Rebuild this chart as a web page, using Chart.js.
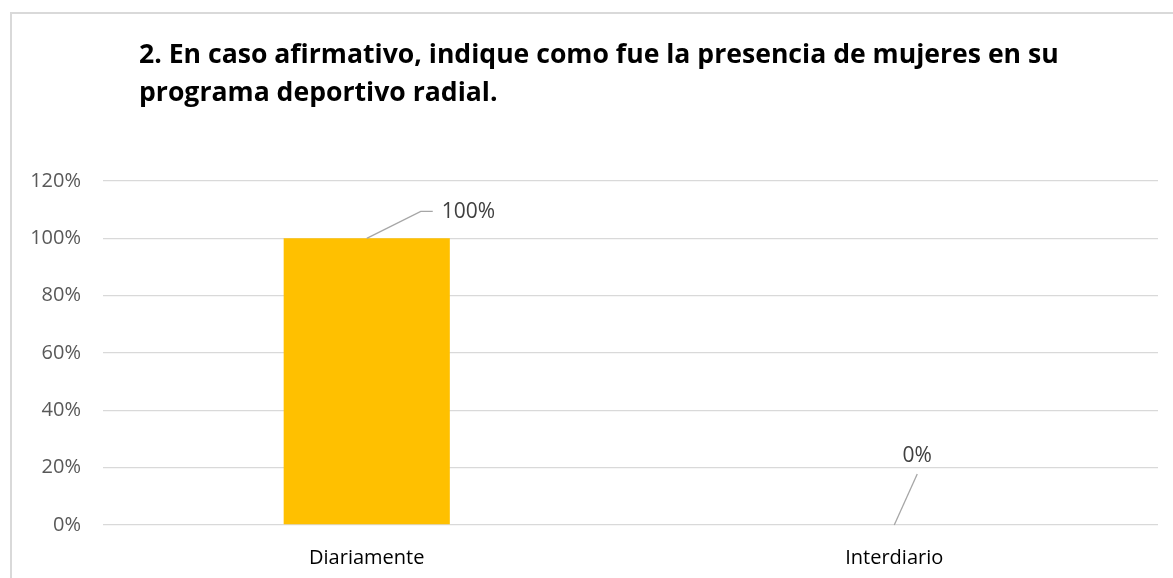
<!DOCTYPE html>
<html>
<head>
<meta charset="utf-8">
<script src="https://cdn.jsdelivr.net/npm/chart.js@4"></script>
<style>
  html, body { margin: 0; padding: 0; background: #fff; overflow: hidden; }
  #frame { position: absolute; left: 10px; top: 12px; width: 1300px; height: 700px;
           border-left: 2px solid #d9d9d9; border-top: 2px solid #d9d9d9; }
  #box { position: absolute; left: 0; top: 0; width: 1173px; height: 578px; }
</style>
</head>
<body>
<div id="frame"></div>
<div id="box"><canvas id="grafico"></canvas></div>
<script>
// datos del gráfico
const categorias = ['Diariamente', 'Interdiario'];
const valores = [100, 0];
const ticksY = [0, 20, 40, 60, 80, 100, 120];
const titulo = [
    '2. En caso afirmativo, indique como fue la presencia de mujeres en su',
    'programa deportivo radial.'
];

// título dibujado a mano (alineado a la izquierda, dos líneas)
const tituloPlugin = {
    id: 'tituloPlugin',
    afterDraw(chart) {
        const ctx = chart.ctx;
        ctx.save();
        ctx.fillStyle = '#000';
        ctx.font = 'bold 26.6px "Open Sans"';
        ctx.textAlign = 'left';
        ctx.textBaseline = 'alphabetic';
        titulo.forEach((t, i) => ctx.fillText(t, 139, 63 + i * 38));
        ctx.restore();
    }
};

// etiquetas con línea guía
const etiquetasPlugin = {
    id: 'etiquetasPlugin',
    afterDatasetsDraw(chart, args, opts) {
        const ctx = chart.ctx;
        const meta = chart.getDatasetMeta(0);
        ctx.save();
        ctx.font = '21px "Open Sans"';
        ctx.fillStyle = '#404040';
        ctx.strokeStyle = '#a6a6a6';
        ctx.lineWidth = 1.3;
        meta.data.forEach((bar, i) => {
            const g = opts.guias[i];
            const x = bar.x, y = bar.y;
            ctx.beginPath();
            ctx.moveTo(x, y);
            g.linea.forEach(p => ctx.lineTo(x + p[0], y + p[1]));
            ctx.stroke();
            ctx.textAlign = g.align;
            ctx.textBaseline = 'middle';
            ctx.fillText(valores[i] + '%', x + g.texto[0], y + g.texto[1]);
        });
        ctx.restore();
    }
};

new Chart(document.getElementById('grafico'), {
    type: 'bar',
    data: {
        labels: categorias,
        datasets: [{
            data: valores,
            backgroundColor: '#FFC000',
            barPercentage: 0.315,
            categoryPercentage: 1
        }]
    },
    options: {
        responsive: true,
        maintainAspectRatio: false,
        animation: false,
        layout: { padding: { left: 0, right: 15, top: 181, bottom: 0 } },
        plugins: {
            legend: { display: false },
            tooltip: { enabled: false },
            etiquetasPlugin: {
                guias: [
                    { linea: [[54, -27], [66, -27]], texto: [75, -26], align: 'left' },
                    { linea: [[23, -51]], texto: [23, -69], align: 'center' }
                ]
            }
        },
        scales: {
            x: {
                grid: { display: false },
                border: { display: false },
                ticks: { color: '#000', font: { family: 'Open Sans', size: 20 }, padding: 13 },
                afterFit(scale) { scale.height = 53; }
            },
            y: {
                min: 0,
                max: 120,
                afterBuildTicks(scale) { scale.ticks = ticksY.map(v => ({ value: v })); },
                grid: { color: '#d9d9d9', lineWidth: 1.3, drawTicks: false },
                border: { display: false },
                ticks: {
                    color: '#595959',
                    font: { family: 'Open Sans', size: 20 },
                    padding: 22,
                    callback: v => v + '%'
                },
                afterFit(scale) { scale.width = 103; }
            }
        }
    },
    plugins: [tituloPlugin, etiquetasPlugin]
});
</script>
</body>
</html>
